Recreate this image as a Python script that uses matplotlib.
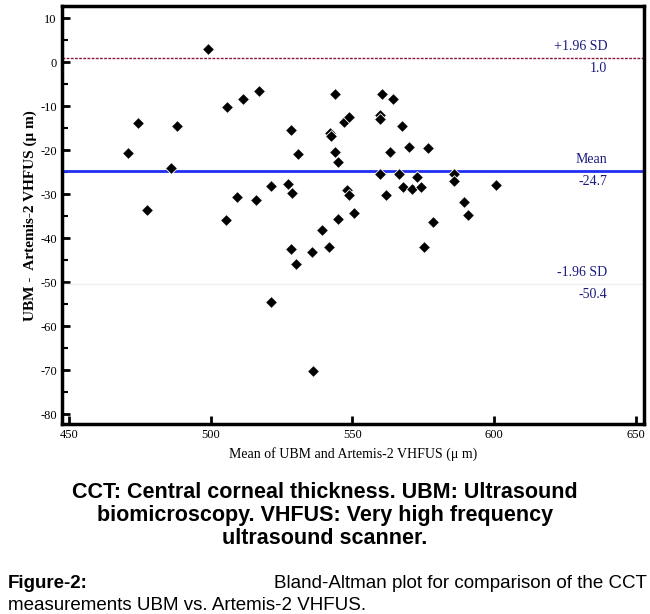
import numpy as np
import matplotlib
matplotlib.use('Agg')
import matplotlib.pyplot as plt

plt.rcParams['axes.unicode_minus'] = False

# means (x) and differences (y)
mean_vals = [470.8, 474.3, 477.5, 486.0, 488.0, 499.0, 505.7, 505.4, 509.3, 511.4,
             516.0, 517.0, 521.3, 527.5, 528.3, 528.9, 531.0, 539.3, 542.0, 542.5,
             544.0, 544.0, 545.0, 544.8, 547.0, 548.7, 548.0, 548.7, 550.5, 560.5,
             564.3, 559.9, 559.9, 567.5, 563.4, 570.0, 576.6, 559.7, 566.4, 573.0,
             567.9, 571.0, 574.3, 562.0, 586.0, 586.0, 600.9, 589.3, 590.9, 578.4,
             528.4, 535.7, 530.2, 541.9, 521.2, 536.0, 575.3]
diff_vals = [-20.7, -13.8, -33.6, -24.0, -14.5, 3.0, -10.3, -36.0, -30.6, -8.4,
             -31.4, -6.5, -28.1, -27.7, -15.5, -29.8, -20.8, -38.2, -16.2, -16.8,
             -7.3, -20.4, -22.7, -35.7, -13.6, -12.6, -29.1, -30.2, -34.2, -7.3,
             -8.4, -12.0, -13.0, -14.5, -20.4, -19.2, -19.6, -25.5, -25.5, -26.2,
             -28.5, -28.9, -28.5, -30.2, -25.5, -27.0, -28.0, -31.7, -34.8, -36.3,
             -42.5, -43.1, -45.9, -42.1, -54.6, -70.2, -42.1]
mean_diff = -24.7
upper = 1.0
lower = -50.4

serif = 'Liberation Serif'
navy = '#1a1a80'

fig = plt.figure(figsize=(6.5, 6.14), dpi=100)
ax = fig.add_axes([0.095, 0.309, 0.896, 0.681])

ax.axhline(upper, color='#8b1a3a', lw=1, ls=(0, (2, 1)))
ax.axhline(mean_diff, color='#1f2ef0', lw=2)
ax.axhline(lower, color='#f2eef2', lw=1)
ax.scatter(mean_vals, diff_vals, marker='D', s=36, c='black', edgecolors='white', linewidths=0.6, zorder=3)

ax.set_xlim(447.5, 653)
ax.set_ylim(-82.3, 12.7)
ax.set_xticks(np.arange(450, 651, 50))
ax.set_yticks(np.arange(-80, 11, 10))
ax.set_yticks(np.arange(-75, 10, 10), minor=True)
ax.tick_params(direction='in', length=6, width=2, labelsize=9)
ax.tick_params(which='minor', direction='in', length=4, width=1.5)
for s in ax.spines.values():
    s.set_linewidth(2.5)
for lab in ax.get_xticklabels() + ax.get_yticklabels():
    lab.set_fontfamily(serif)

ax.set_xlabel('Mean of UBM and Artemis-2 VHFUS (\u03bc m)', fontfamily=serif, fontsize=10, labelpad=4)
ax.set_ylabel('UBM -  Artemis-2 VHFUS (\u03bc m)', fontfamily=serif, fontsize=11, fontweight='bold', labelpad=2)

tx = 640
ax.text(tx, upper + 1, '+1.96 SD', ha='right', va='bottom', color=navy, fontfamily=serif, fontsize=10)
ax.text(tx, upper - 1, '1.0', ha='right', va='top', color=navy, fontfamily=serif, fontsize=10)
ax.text(tx, mean_diff + 1, 'Mean', ha='right', va='bottom', color=navy, fontfamily=serif, fontsize=10)
ax.text(tx, mean_diff - 1, '-24.7', ha='right', va='top', color=navy, fontfamily=serif, fontsize=10)
ax.text(tx, lower + 1, '-1.96 SD', ha='right', va='bottom', color=navy, fontfamily=serif, fontsize=10)
ax.text(tx, lower - 1, '-50.4', ha='right', va='top', color=navy, fontfamily=serif, fontsize=10)

cap_lines = ['CCT: Central corneal thickness. UBM: Ultrasound',
             'biomicroscopy. VHFUS: Very high frequency',
             'ultrasound scanner.']
for i, line in enumerate(cap_lines):
    fig.text(0.5, 1 - (492 + 23 * i) / 614, line, ha='center', va='center', fontsize=15.5,
             fontweight='bold', fontfamily='Liberation Sans')
fig.text(0.012, 1 - 584 / 614, 'Figure-2:', ha='left', va='center', fontsize=13.5, fontweight='bold',
         fontfamily='Liberation Sans')
fig.text(0.995, 1 - 584 / 614, 'Bland-Altman plot for comparison of the CCT', ha='right', va='center',
         fontsize=13.5, fontfamily='Liberation Sans')
fig.text(0.012, 1 - 606 / 614, 'measurements UBM vs. Artemis-2 VHFUS.', ha='left', va='center',
         fontsize=13.5, fontfamily='Liberation Sans')

fig.savefig('out.png', dpi=100)
